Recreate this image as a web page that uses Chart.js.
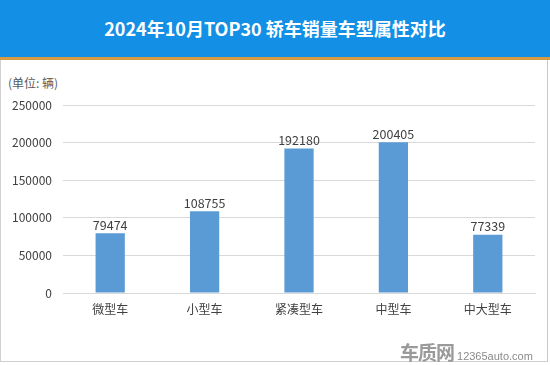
<!DOCTYPE html>
<html>
<head>
<meta charset="utf-8">
<script src="https://cdn.jsdelivr.net/npm/chart.js@4"></script>
<style>
  body { margin: 0; background: #fff; font-family: "Noto Sans CJK SC", "Noto Sans", sans-serif; }
  #wrap { position: relative; width: 550px; height: 365px; overflow: hidden; background: #fff; }
  #frame { position: absolute; left: 0; top: 0; width: 546px; height: 361px; border-left: 1px solid #d0d0d0; border-right: 1px solid #c8c8c8; border-bottom: 1px solid #d0d0d0; }
  #head { position: absolute; left: 0; top: 0; width: 550px; height: 57px; background: #148fe6; border-bottom: 3px solid #d69a45;
          color: #fff; font-weight: bold; font-size: 18px; line-height: 57px; text-align: center; }
  #unit { position: absolute; left: 8px; top: 74px; font-size: 12px; color: #595959; }
  #box { position: absolute; left: 0; top: 60px; width: 548px; height: 300px; }
  #mark { position: absolute; left: 400px; top: 338px; font-size: 11px; color: #8a8a8a; white-space: nowrap; font-family: "Liberation Sans", sans-serif; }
  #mark b { font-size: 19px; color: #9a9a9a; letter-spacing: -1px; margin-right: 3px; font-family: "Noto Sans CJK SC", sans-serif; }
</style>
</head>
<body>
<div id="wrap">
  <div id="frame"></div>
  <div id="head">2024年10月TOP30 轿车销量车型属性对比</div>
  <div id="unit">(单位: 辆)</div>
  <div id="box"><canvas id="chart" width="548" height="300"></canvas></div>
  <div id="mark"><b>车质网</b>12365auto.com</div>
</div>
<script>
// 车型属性 & 10月销量
const categories = ['微型车', '小型车', '紧凑型车', '中型车', '中大型车'];
const sales = [79474, 108755, 192180, 200405, 77339];
const yTicks = [0, 50000, 100000, 150000, 200000, 250000];

// draws the number above each bar
const valueLabels = {
  id: 'valueLabels',
  afterDatasetsDraw(chart) {
    const ctx = chart.ctx;
    const meta = chart.getDatasetMeta(0);
    ctx.save();
    ctx.font = '12.5px "Noto Sans CJK SC", sans-serif';
    ctx.fillStyle = '#404040';
    ctx.textAlign = 'center';
    ctx.textBaseline = 'bottom';
    meta.data.forEach((bar, i) => {
      ctx.fillText(String(sales[i]), bar.x, bar.y - 2);
    });
    ctx.restore();
  }
};

new Chart(document.getElementById('chart').getContext('2d'), {
  type: 'bar',
  data: {
    labels: categories,
    datasets: [{
      data: sales,
      backgroundColor: '#5b9bd5',
      categoryPercentage: 1,
      barPercentage: 0.31
    }]
  },
  options: {
    responsive: false,
    animation: false,
    layout: { padding: { top: 45, right: 13, bottom: 0, left: 0 } },
    plugins: { legend: { display: false }, tooltip: { enabled: false } },
    scales: {
      x: {
        grid: { display: false, drawTicks: false },
        border: { color: '#d9d9d9' },
        ticks: { color: '#404040', font: { size: 12, family: '"Noto Sans CJK SC", sans-serif' }, padding: 9 },
        afterFit(scale) { scale.height = 67; }
      },
      y: {
        min: 0,
        max: 250000,
        afterBuildTicks(scale) { scale.ticks = yTicks.map(v => ({ value: v })); },
        grid: { color: '#d9d9d9', drawTicks: false },
        border: { display: false },
        ticks: {
          color: '#404040',
          font: { size: 12, family: '"Noto Sans CJK SC", sans-serif' },
          padding: 11,
          callback: v => String(v)
        },
        afterFit(scale) { scale.width = 63; }
      }
    }
  },
  plugins: [valueLabels]
});
</script>
</body>
</html>
